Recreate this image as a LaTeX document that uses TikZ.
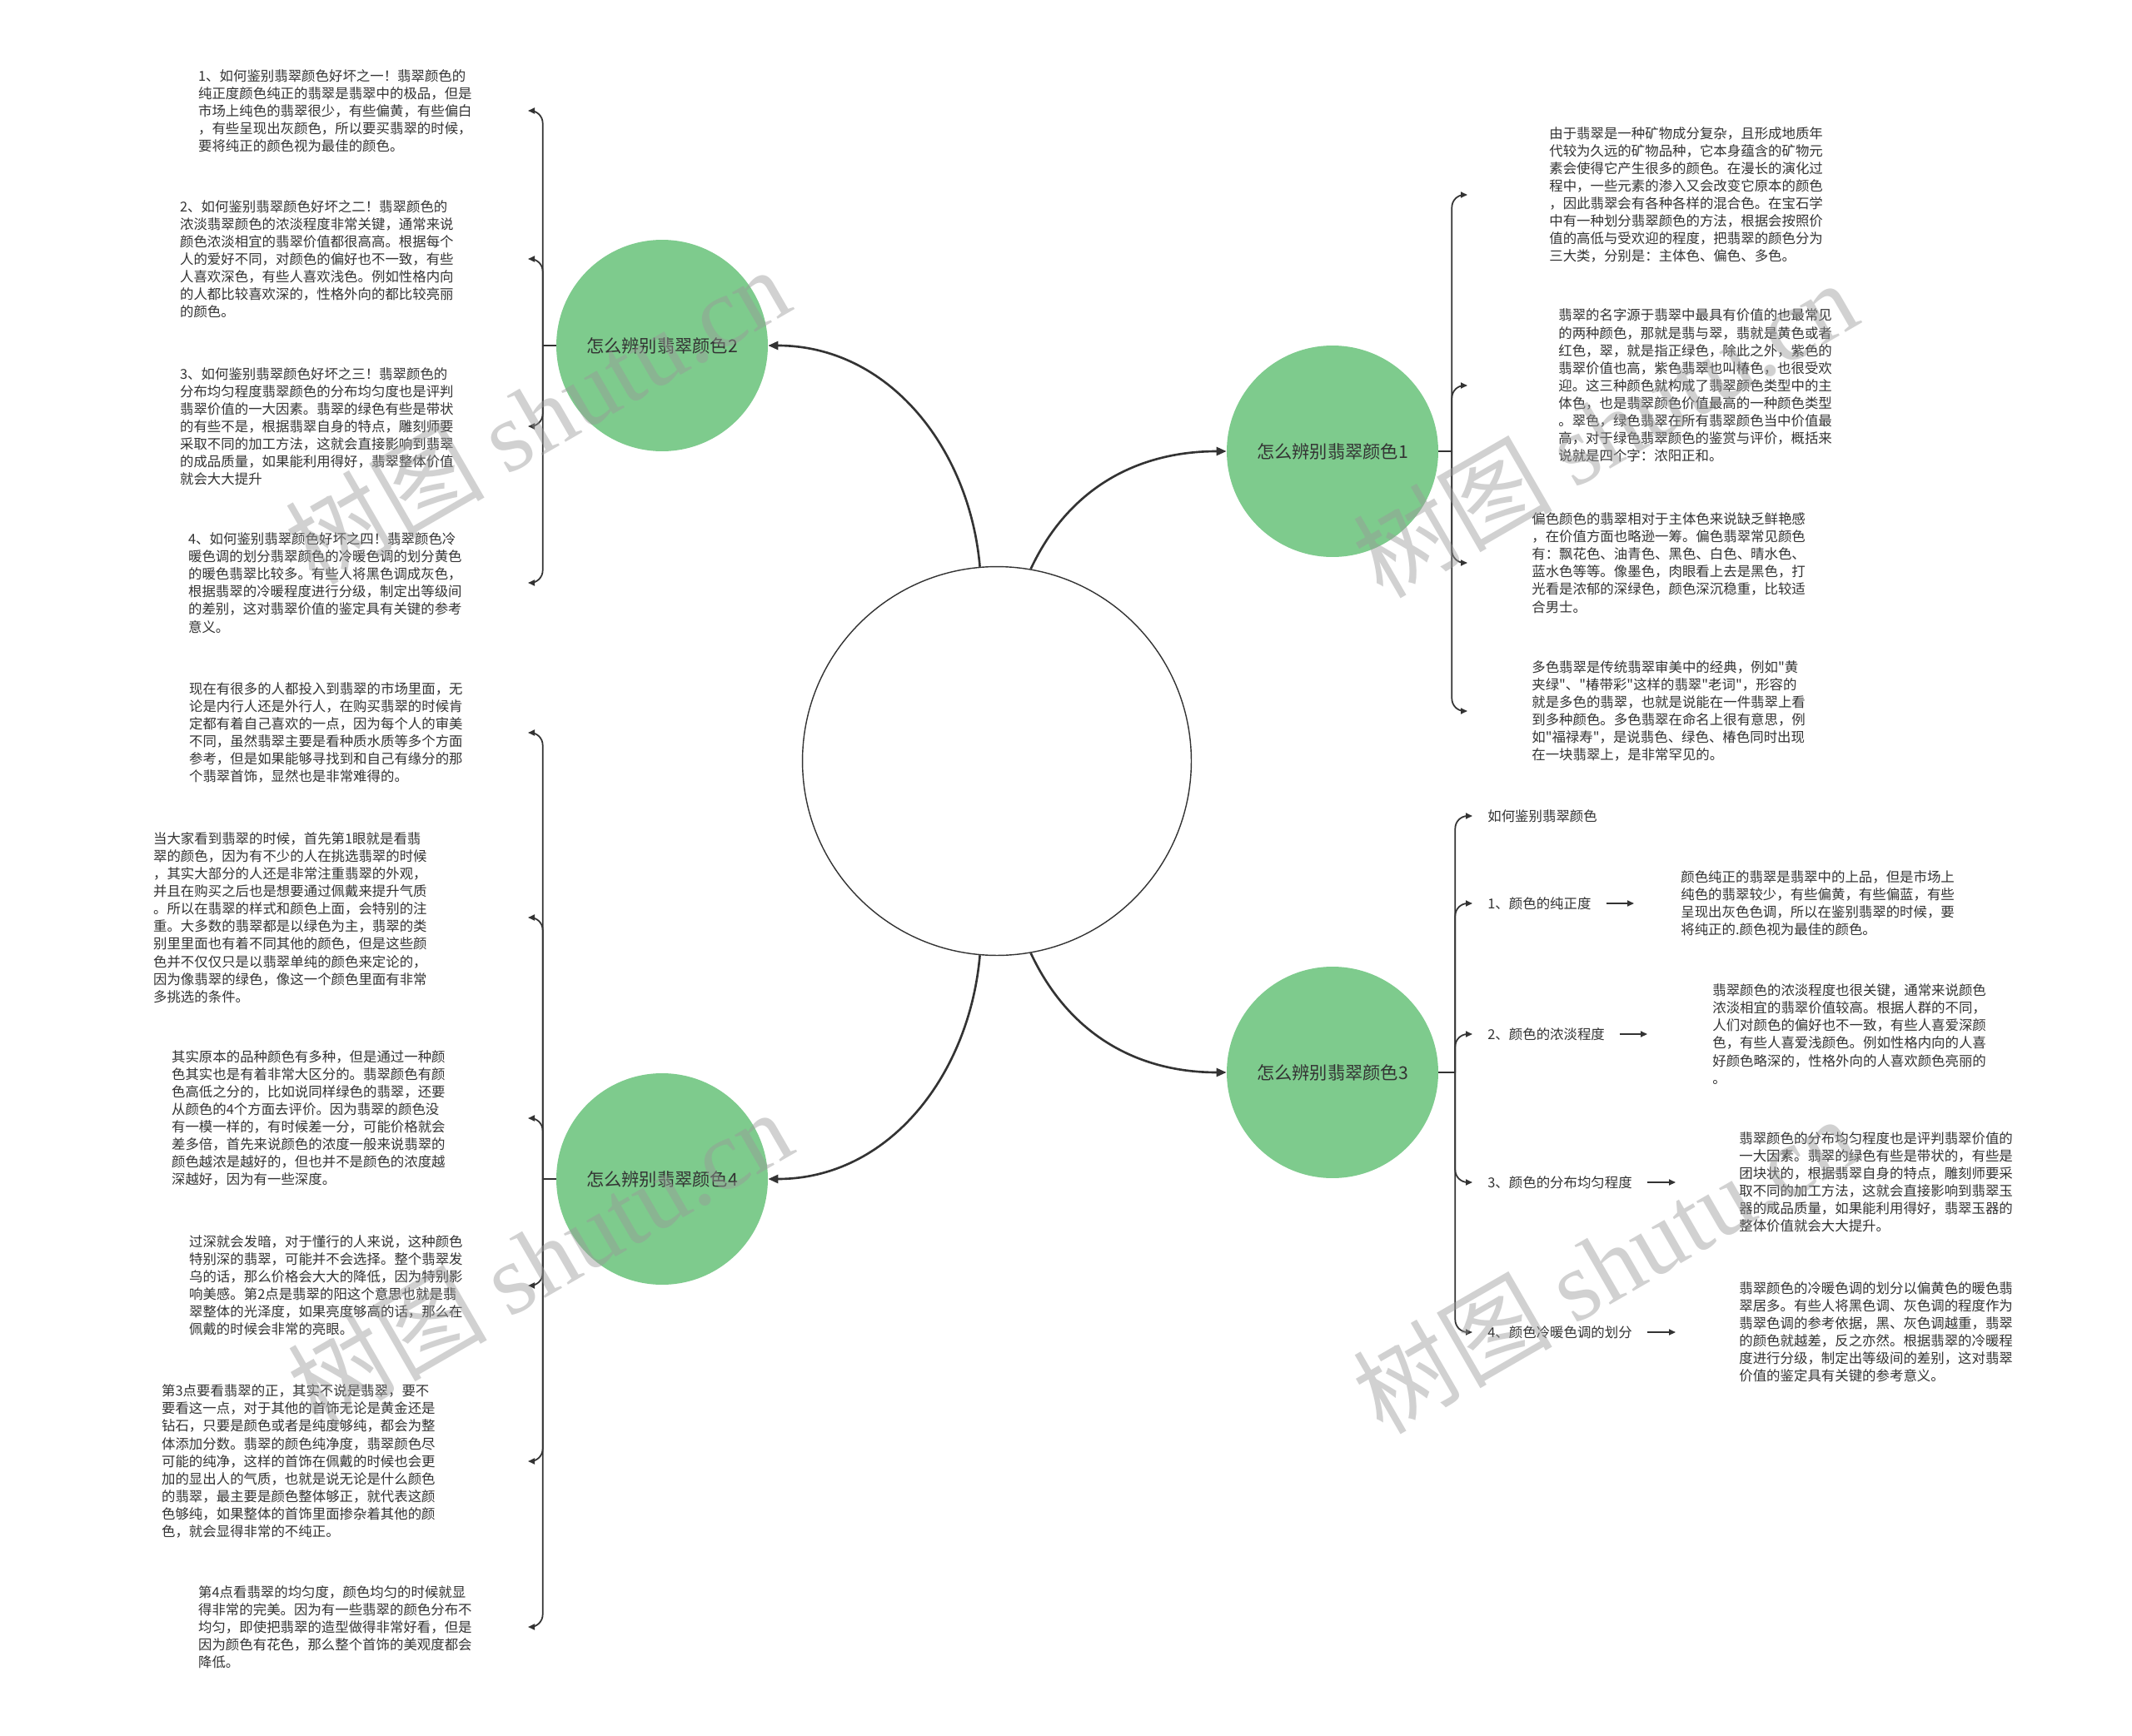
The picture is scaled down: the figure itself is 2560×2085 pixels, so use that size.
\documentclass[tikz,border=0pt]{standalone}
\usepackage{fontspec}
\usepackage{tikz}
\usetikzlibrary{positioning, arrows.meta}
\newfontfamily\cjk{Noto Sans CJK SC}
\newfontfamily\wmserif{Liberation Serif}
\definecolor{ink}{RGB}{51,51,51}
\definecolor{leaf}{RGB}{126,203,141}

\begin{document}
\begin{tikzpicture}[x=0.02cm, y=-0.02cm,
  core/.style={circle, draw=ink, line width=0.8pt, fill=white, minimum size=9.34cm, inner sep=0pt},
  topic/.style={circle, fill=leaf, minimum size=5.08cm, inner sep=0pt, text=ink, font=\cjk\fontsize{12.1}{14}\selectfont},
  note/.style={align=left, inner ysep=0pt, text=ink, font=\cjk\fontsize{9.35}{12}\selectfont},
  label/.style={note, anchor=west, inner xsep=0.36cm},
  stem/.style={draw=ink, line width=1.5pt, -{Triangle[length=0.24cm, width=0.2cm]}},
  rail/.style={draw=ink, line width=1pt},
  twig/.style={rail, rounded corners=0.3cm, -{Triangle[length=0.16cm, width=0.14cm]}},
  pointer/.style={rail, -{Triangle[length=0.16cm, width=0.14cm]}, shorten >=1.52cm},
  stamp/.style={rotate=30, text=gray!80, text opacity=0.45, font=\cjk\fontsize{68}{68}\selectfont}
]
\fill[white] (0,0) rectangle (2560,2085);
\useasboundingbox (0,0) rectangle (2560,2085);

\node[core] (core) at (1197,914) {};
\node[topic] (c1) at (1600,542) {怎么辨别翡翠颜色1};
\node[topic] (c2) at (795,415) {怎么辨别翡翠颜色2};
\node[topic] (c3) at (1600,1288) {怎么辨别翡翠颜色3};
\node[topic] (c4) at (795,1416) {怎么辨别翡翠颜色4};

\draw[stem] (core.95) to[out=95, in=0] (c2.east);
\draw[stem] (core.80) to[out=65, in=180] (c1.west);
\draw[stem] (core.265) to[out=265, in=0] (c4.east);
\draw[stem] (core.280) to[out=295, in=180] (c3.west);

\node[note, anchor=west, inner xsep=1.96cm] (t1a) at (1762,234) {由于翡翠是一种矿物成分复杂，且形成地质年\\代较为久远的矿物品种，它本身蕴含的矿物元\\素会使得它产生很多的颜色。在漫长的演化过\\程中，一些元素的渗入又会改变它原本的颜色\\，因此翡翠会有各种各样的混合色。在宝石学\\中有一种划分翡翠颜色的方法，根据会按照价\\值的高低与受欢迎的程度，把翡翠的颜色分为\\三大类，分别是：主体色、偏色、多色。};
\node[note, anchor=west, inner xsep=2.18cm] (t1b) at (1762,463) {翡翠的名字源于翡翠中最具有价值的也最常见\\的两种颜色，那就是翡与翠，翡就是黄色或者\\红色，翠，就是指正绿色，除此之外，紫色的\\翡翠价值也高，紫色翡翠也叫椿色，也很受欢\\迎。这三种颜色就构成了翡翠颜色类型中的主\\体色，也是翡翠颜色价值最高的一种颜色类型\\。翠色，绿色翡翠在所有翡翠颜色当中价值最\\高，对于绿色翡翠颜色的鉴赏与评价，概括来\\说就是四个字：浓阳正和。};
\node[note, anchor=west, inner xsep=1.54cm] (t1c) at (1762,676) {偏色颜色的翡翠相对于主体色来说缺乏鲜艳感\\，在价值方面也略逊一筹。偏色翡翠常见颜色\\有：飘花色、油青色、黑色、白色、晴水色、\\蓝水色等等。像墨色，肉眼看上去是黑色，打\\光看是浓郁的深绿色，颜色深沉稳重，比较适\\合男士。};
\node[note, anchor=west, inner xsep=1.54cm] (t1d) at (1762,854) {多色翡翠是传统翡翠审美中的经典，例如"黄\\夹绿"、"椿带彩"这样的翡翠"老词"，形容的\\就是多色的翡翠，也就是说能在一件翡翠上看\\到多种颜色。多色翡翠在命名上很有意思，例\\如"福禄寿"，是说翡色、绿色、椿色同时出现\\在一块翡翠上，是非常罕见的。};

\coordinate (j1) at ([xshift=0.32cm]c1.east);
\draw[rail] (c1.east) -- (j1);
\draw[twig] (j1) |- (t1a.west);
\draw[twig] (j1) |- (t1b.west);
\draw[twig] (j1) |- (t1c.west);
\draw[twig] (j1) |- (t1d.west);

\node[note, anchor=east, inner xsep=1.34cm] (t2a) at (634,133) {1、如何鉴别翡翠颜色好坏之一！翡翠颜色的\\纯正度颜色纯正的翡翠是翡翠中的极品，但是\\市场上纯色的翡翠很少，有些偏黄，有些偏白\\，有些呈现出灰颜色，所以要买翡翠的时候，\\要将纯正的颜色视为最佳的颜色。};
\node[note, anchor=east, inner xsep=1.78cm] (t2b) at (634,311) {2、如何鉴别翡翠颜色好坏之二！翡翠颜色的\\浓淡翡翠颜色的浓淡程度非常关键，通常来说\\颜色浓淡相宜的翡翠价值都很高高。根据每个\\人的爱好不同，对颜色的偏好也不一致，有些\\人喜欢深色，有些人喜欢浅色。例如性格内向\\的人都比较喜欢深的，性格外向的都比较亮丽\\的颜色。};
\node[note, anchor=east, inner xsep=1.78cm] (t2c) at (634,512) {3、如何鉴别翡翠颜色好坏之三！翡翠颜色的\\分布均匀程度翡翠颜色的分布均匀度也是评判\\翡翠价值的一大因素。翡翠的绿色有些是带状\\的有些不是，根据翡翠自身的特点，雕刻师要\\采取不同的加工方法，这就会直接影响到翡翠\\的成品质量，如果能利用得好，翡翠整体价值\\就会大大提升};
\node[note, anchor=east, inner xsep=1.58cm] (t2d) at (634,700) {4、如何鉴别翡翠颜色好坏之四！翡翠颜色冷\\暖色调的划分翡翠颜色的冷暖色调的划分黄色\\的暖色翡翠比较多。有些人将黑色调成灰色，\\根据翡翠的冷暖程度进行分级，制定出等级间\\的差别，这对翡翠价值的鉴定具有关键的参考\\意义。};

\coordinate (j2) at ([xshift=-0.32cm]c2.west);
\draw[rail] (c2.west) -- (j2);
\draw[twig] (j2) |- (t2a.east);
\draw[twig] (j2) |- (t2b.east);
\draw[twig] (j2) |- (t2c.east);
\draw[twig] (j2) |- (t2d.east);

\node[label] (l0) at (1768,980) {如何鉴别翡翠颜色};
\node[label] (l1) at (1768,1085) {1、颜色的纯正度};
\node[label] (l2) at (1768,1242) {2、颜色的浓淡程度};
\node[label] (l3) at (1768,1420) {3、颜色的分布均匀程度};
\node[label] (l4) at (1768,1600) {4、颜色冷暖色调的划分};

\node[note, anchor=west, inner xsep=0pt] (d1) at (2018,1085) {颜色纯正的翡翠是翡翠中的上品，但是市场上\\纯色的翡翠较少，有些偏黄，有些偏蓝，有些\\呈现出灰色色调，所以在鉴别翡翠的时候，要\\将纯正的.颜色视为最佳的颜色。};
\node[note, anchor=west, inner xsep=0pt] (d2) at (2056,1242) {翡翠颜色的浓淡程度也很关键，通常来说颜色\\浓淡相宜的翡翠价值较高。根据人群的不同，\\人们对颜色的偏好也不一致，有些人喜爱深颜\\色，有些人喜爱浅颜色。例如性格内向的人喜\\好颜色略深的，性格外向的人喜欢颜色亮丽的\\。};
\node[note, anchor=west, inner xsep=0pt] (d3) at (2088,1420) {翡翠颜色的分布均匀程度也是评判翡翠价值的\\一大因素。翡翠的绿色有些是带状的，有些是\\团块状的，根据翡翠自身的特点，雕刻师要采\\取不同的加工方法，这就会直接影响到翡翠玉\\器的成品质量，如果能利用得好，翡翠玉器的\\整体价值就会大大提升。};
\node[note, anchor=west, inner xsep=0pt] (d4) at (2088,1600) {翡翠颜色的冷暖色调的划分以偏黄色的暖色翡\\翠居多。有些人将黑色调、灰色调的程度作为\\翡翠色调的参考依据，黑、灰色调越重，翡翠\\的颜色就越差，反之亦然。根据翡翠的冷暖程\\度进行分级，制定出等级间的差别，这对翡翠\\价值的鉴定具有关键的参考意义。};

\coordinate (j3) at ([xshift=0.4cm]c3.east);
\draw[rail] (c3.east) -- (j3);
\draw[twig] (j3) |- (l0.west);
\draw[twig] (j3) |- (l1.west);
\draw[twig] (j3) |- (l2.west);
\draw[twig] (j3) |- (l3.west);
\draw[twig] (j3) |- (l4.west);
\draw[pointer, shorten >=1.12cm] (l1.east) -- (d1.west);
\draw[pointer, shorten >=1.56cm] (l2.east) -- (d2.west);
\draw[pointer] (l3.east) -- (d3.west);
\draw[pointer] (l4.east) -- (d4.west);

\node[note, anchor=east, inner xsep=1.56cm] (t4a) at (634,880) {现在有很多的人都投入到翡翠的市场里面，无\\论是内行人还是外行人，在购买翡翠的时候肯\\定都有着自己喜欢的一点，因为每个人的审美\\不同，虽然翡翠主要是看种质水质等多个方面\\参考，但是如果能够寻找到和自己有缘分的那\\个翡翠首饰，显然也是非常难得的。};
\node[note, anchor=east, inner xsep=2.42cm] (t4b) at (634,1102) {当大家看到翡翠的时候，首先第1眼就是看翡\\翠的颜色，因为有不少的人在挑选翡翠的时候\\，其实大部分的人还是非常注重翡翠的外观，\\并且在购买之后也是想要通过佩戴来提升气质\\。所以在翡翠的样式和颜色上面，会特别的注\\重。大多数的翡翠都是以绿色为主，翡翠的类\\别里里面也有着不同其他的颜色，但是这些颜\\色并不仅仅只是以翡翠单纯的颜色来定论的，\\因为像翡翠的绿色，像这一个颜色里面有非常\\多挑选的条件。};
\node[note, anchor=east, inner xsep=1.98cm] (t4c) at (634,1343) {其实原本的品种颜色有多种，但是通过一种颜\\色其实也是有着非常大区分的。翡翠颜色有颜\\色高低之分的，比如说同样绿色的翡翠，还要\\从颜色的4个方面去评价。因为翡翠的颜色没\\有一模一样的，有时候差一分，可能价格就会\\差多倍，首先来说颜色的浓度一般来说翡翠的\\颜色越浓是越好的，但也并不是颜色的浓度越\\深越好，因为有一些深度。};
\node[note, anchor=east, inner xsep=1.56cm] (t4d) at (634,1544) {过深就会发暗，对于懂行的人来说，这种颜色\\特别深的翡翠，可能并不会选择。整个翡翠发\\乌的话，那么价格会大大的降低，因为特别影\\响美感。第2点是翡翠的阳这个意思也就是翡\\翠整体的光泽度，如果亮度够高的话，那么在\\佩戴的时候会非常的亮眼。};
\node[note, anchor=east, inner xsep=2.22cm] (t4e) at (634,1755) {第3点要看翡翠的正，其实不说是翡翠，要不\\要看这一点，对于其他的首饰无论是黄金还是\\钻石，只要是颜色或者是纯度够纯，都会为整\\体添加分数。翡翠的颜色纯净度，翡翠颜色尽\\可能的纯净，这样的首饰在佩戴的时候也会更\\加的显出人的气质，也就是说无论是什么颜色\\的翡翠，最主要是颜色整体够正，就代表这颜\\色够纯，如果整体的首饰里面掺杂着其他的颜\\色，就会显得非常的不纯正。};
\node[note, anchor=east, inner xsep=1.34cm] (t4f) at (634,1954) {第4点看翡翠的均匀度，颜色均匀的时候就显\\得非常的完美。因为有一些翡翠的颜色分布不\\均匀，即使把翡翠的造型做得非常好看，但是\\因为颜色有花色，那么整个首饰的美观度都会\\降低。};

\coordinate (j4) at ([xshift=-0.32cm]c4.west);
\draw[rail] (c4.west) -- (j4);
\draw[twig] (j4) |- (t4a.east);
\draw[twig] (j4) |- (t4b.east);
\draw[twig] (j4) |- (t4c.east);
\draw[twig] (j4) |- (t4d.east);
\draw[twig] (j4) |- (t4e.east);
\draw[twig] (j4) |- (t4f.east);

\node[stamp] (wm1) at (645,498) {树图 {\wmserif shutu.cn}};
\node[stamp] (wm2) at (1927,514) {树图 {\wmserif shutu.cn}};
\node[stamp] (wm3) at (648,1510) {树图 {\wmserif shutu.cn}};
\node[stamp] (wm4) at (1927,1518) {树图 {\wmserif shutu.cn}};
\end{tikzpicture}
\end{document}
